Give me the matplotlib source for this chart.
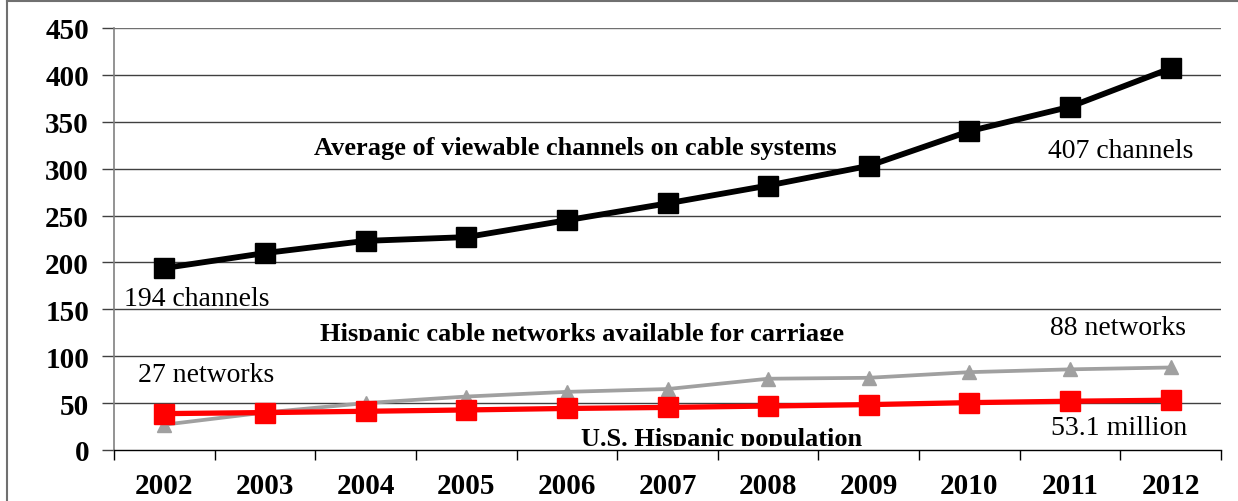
import matplotlib
matplotlib.use("Agg")
import matplotlib.pyplot as plt
from matplotlib.lines import Line2D
from matplotlib.transforms import Bbox, TransformedBbox
import numpy as np

years = ["2002", "2003", "2004", "2005", "2006", "2007", "2008", "2009", "2010", "2011", "2012"]
channels = [194, 210, 223, 227, 245, 263, 282, 303, 340, 366, 407]
networks = [27, 40, 50, 57, 62, 65, 76, 77, 83, 86, 88]
population = [38.8, 39.9, 41.3, 42.7, 44.3, 45.4, 46.9, 48.4, 50.5, 52.0, 53.1]
yticks = [0, 50, 100, 150, 200, 250, 300, 350, 400, 450]

plt.rcParams['font.family'] = ['Liberation Serif', 'DejaVu Serif']

W, H = 1238, 502
fig = plt.figure(figsize=(W / 100, H / 100), dpi=100)
ax = fig.add_axes([114 / W, 1 - 451 / H, (1221 - 114) / W, (451 - 29) / H])

x = np.arange(len(years))
ax.set_xlim(-0.5, len(years) - 0.5)
ax.set_ylim(0, 450)

gridc = '#404040'
for v in yticks[1:]:
    ax.axhline(v, color='#707070' if v == 450 else gridc, lw=1.0, zorder=1)

ax.plot(x, networks, color='#a0a0a0', lw=2.7, marker='^', markersize=10.5, zorder=3)
ax.plot(x, population, color='#ff0000', lw=3.8, marker='s', markersize=14.5, zorder=4)
ax.plot(x, channels, color='#000000', lw=4.2, marker='s', markersize=14.5, zorder=5)

ax.set_xticks(np.arange(-0.5, len(years), 1.0))
ax.set_xticklabels([])
ax.set_xticks(x, minor=True)
ax.set_xticklabels(years, minor=True, fontsize=21, fontweight='bold')
ax.tick_params(axis='x', which='major', length=7, width=1, color='#000000', direction='out')
ax.tick_params(axis='x', which='minor', length=0, pad=16)
ax.set_yticks(yticks)
ax.set_yticklabels([str(v) for v in yticks], fontsize=21, fontweight='bold')
ax.tick_params(axis='y', length=9, width=1, color=gridc, pad=9)

for s in ['top', 'right']:
    ax.spines[s].set_visible(False)
ax.spines['left'].set_color('#808080')
ax.spines['left'].set_linewidth(1.2)
ax.spines['bottom'].set_color('#000000')
ax.spines['bottom'].set_linewidth(1.0)

def txt(xv, yv, s, bold=False, clip_y=None, size=20):
    t = ax.text(xv, yv, s, ha='center', va='baseline', fontsize=size,
                fontweight='bold' if bold else 'normal', zorder=6)
    if clip_y is not None:
        bb = TransformedBbox(Bbox([[-0.5, clip_y], [10.5, 450]]), ax.transData)
        t.set_clip_box(bb)
        t.set_clip_on(True)
    return t

txt(4.08, 315.6, "Average of viewable channels on cable systems", bold=True, size=19)
txt(9.50, 312.4, "407 channels")
txt(0.32, 154.6, "194 channels")
txt(4.155, 116.8, "Hispanic cable networks available for carriage", bold=True, size=19, clip_y=116.0)
txt(9.48, 123.7, "88 networks")
txt(0.42, 73.9, "27 networks")
txt(9.49, 17.0, "53.1 million")
txt(5.54, 4.8, "U.S. Hispanic population", bold=True, size=19, clip_y=4.0)

bc = '#707070'
fig.add_artist(Line2D([7 / W, 7 / W], [0, 1 - 2 / H], color=bc, lw=1.5, transform=fig.transFigure))
fig.add_artist(Line2D([7 / W, 1], [1 - 2 / H, 1 - 2 / H], color=bc, lw=1.5, transform=fig.transFigure))

fig.savefig("out.png", dpi=100)
